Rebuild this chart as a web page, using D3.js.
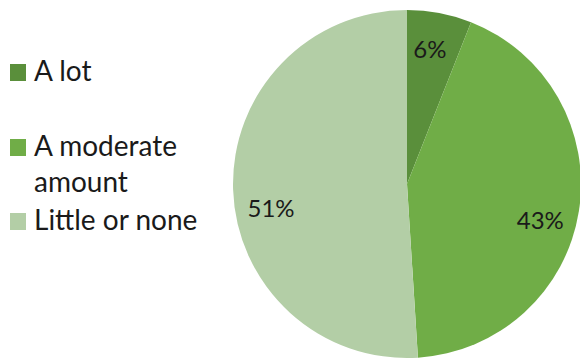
<!DOCTYPE html>
<html>
<head>
<meta charset="utf-8">
<script src="https://cdn.jsdelivr.net/npm/d3@7"></script>
<style>
  html, body { margin: 0; padding: 0; background: #ffffff; }
  svg { display: block; }
  text { font-family: Lato, "Open Sans", sans-serif; fill: #1a1a1a; }
</style>
</head>
<body>
<svg id="chart" width="580" height="360"></svg>
<script>
// Share of respondents by amount
const categories = ["A lot", "A moderate amount", "Little or none"];
const shares = [6, 43, 51];
const colors = ["#5a8f3b", "#70ad47", "#b3cea6"];

const svg = d3.select("#chart");
const W = 580, H = 360;

const cx = 407, cy = 184, radius = 174;

const pie = d3.pie().sort(null).value(d => d.value);
const data = pie(categories.map((c, i) => ({ name: c, value: shares[i] })));

const color = d3.scaleOrdinal().domain(categories).range(colors);

const arc = d3.arc().innerRadius(0).outerRadius(radius);
const labelArc = d3.arc().innerRadius(138).outerRadius(138);

const g = svg.append("g").attr("transform", `translate(${cx},${cy})`);

g.selectAll("path.slice")
  .data(data)
  .join("path")
  .attr("class", "slice")
  .attr("d", arc)
  .attr("fill", d => color(d.data.name));

// Label nudges (best-fit style placement inside slices)
const nudge = {
  "A lot": [-3, 0],
  "A moderate amount": [-3, 14],
  "Little or none": [2, 19]
};

g.selectAll("text.pct")
  .data(data)
  .join("text")
  .attr("class", "pct")
  .attr("x", d => labelArc.centroid(d)[0] + nudge[d.data.name][0])
  .attr("y", d => labelArc.centroid(d)[1] + nudge[d.data.name][1])
  .attr("text-anchor", "middle")
  .attr("dominant-baseline", "central")
  .style("font-size", "24px")
  .text(d => d3.format(".0f")(d.data.value) + "%");

// Legend
const legendLines = {
  "A lot": ["A lot"],
  "A moderate amount": ["A moderate", "amount"],
  "Little or none": ["Little or none"]
};
const legendY = d3.scalePoint().domain(categories).range([81, 230]);
const lineGap = 36;

const leg = svg.append("g");
const items = leg.selectAll("g.item")
  .data(categories)
  .join("g")
  .attr("class", "item");

items.append("rect")
  .attr("x", 10)
  .attr("y", (d, i) => (i === 1 ? 156 : legendY(d)) - 17)
  .attr("width", 16)
  .attr("height", 17)
  .attr("fill", d => color(d));

items.each(function(d, i) {
  const base = i === 1 ? 156 : legendY(d);
  const t = d3.select(this).append("text")
    .attr("x", 34)
    .attr("y", base)
    .style("font-size", "28px");
  legendLines[d].forEach((line, j) => {
    t.append("tspan").attr("x", 34).attr("y", base + j * lineGap).text(line);
  });
});
</script>
</body>
</html>
